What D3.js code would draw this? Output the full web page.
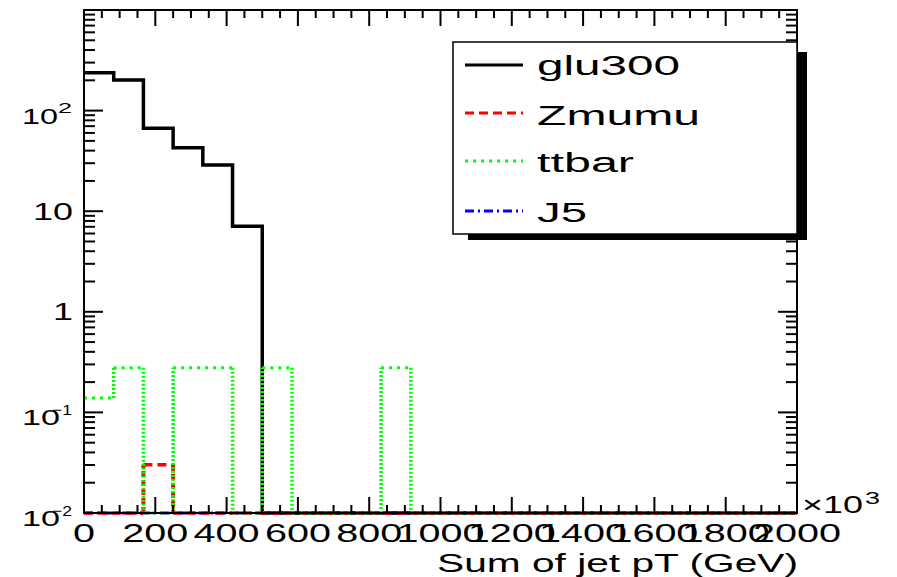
<!DOCTYPE html>
<html>
<head>
<meta charset="utf-8">
<script src="https://cdn.jsdelivr.net/npm/d3@7/dist/d3.min.js"></script>
<style>
  html, body { margin: 0; padding: 0; background: #fff; }
  svg { display: block; }
  text { font-family: "Liberation Sans", Arial, Helvetica, sans-serif; fill: #000; }
</style>
</head>
<body>
<svg id="chart" width="897" height="577"></svg>
<script>
// ---------------- data ----------------
const xRange = [0, 2000];           // x10^3
const nBins = 24;
const xTickLabels = ["0","200","400","600","800","1000","1200","1400","1600","1800","2000"];
const xTickValues = [0,200,400,600,800,1000,1200,1400,1600,1800,2000];
const yTickValues = [0.01, 0.1, 1, 10, 100];
const yTickBase = ["10","10","1","10","10"];
const yTickSup  = ["-2","-1","","","2"];
const seriesNames = ["glu300", "Zmumu", "ttbar", "J5"];
const glu300 = [238, 201, 66.7, 42.8, 28.8, 7.1, 0,0,0,0,0,0,0,0,0,0,0,0,0,0,0,0,0,0];
const Zmumu  = [0, 0, 0.0302, 0,0,0,0,0,0,0,0,0,0,0,0,0,0,0,0,0,0,0,0,0];
const ttbar  = [0.139, 0.278, 0, 0.278, 0.278, 0, 0.278, 0,0,0, 0.278, 0,0,0,0,0,0,0,0,0,0,0,0,0];
const J5     = [0,0,0,0,0,0,0,0,0,0,0,0,0,0,0,0,0,0,0,0,0,0,0,0];

// ---------------- layout ----------------
const svg = d3.select("#chart");
const L = 84, R = 797, T = 10, B = 513;
const x = d3.scaleLinear().domain(xRange).range([L, R]);
const y = d3.scaleLog().domain([0.01, 1000]).range([B, T]);
const yMin = 0.01;
const binW = (xRange[1] - xRange[0]) / nBins;
const edges = d3.range(nBins + 1).map(i => xRange[0] + i * binW);
const yv = v => y(v > yMin ? v : yMin);

// ---------------- histograms ----------------
function segments(vals) {
  const hs = [], vs = [];
  for (let i = 0; i < vals.length; i++) {
    hs.push([[x(edges[i]), yv(vals[i])], [x(edges[i+1]), yv(vals[i])]]);
    if (i < vals.length - 1 && yv(vals[i]) !== yv(vals[i+1]))
      vs.push([[x(edges[i+1]), yv(vals[i])], [x(edges[i+1]), yv(vals[i+1])]]);
  }
  return {hs, vs};
}
const line = d3.line();
const gH = svg.append("g");
function drawHist(vals, color, width, hDash, vDash) {
  const s = segments(vals);
  if (!hDash) {
    const pts = [];
    vals.forEach((v, i) => { pts.push([x(edges[i]), yv(v)]); pts.push([x(edges[i+1]), yv(v)]); });
    gH.append("path").attr("d", line(pts)).attr("fill", "none")
      .attr("stroke", color).attr("stroke-width", width).attr("stroke-linejoin", "miter");
    return;
  }
  const merged = [];
  s.hs.forEach(h => {
    const last = merged[merged.length - 1];
    if (last && last[1][1] === h[0][1] && Math.abs(last[1][0] - h[0][0]) < 0.01) last[1] = h[1];
    else merged.push([h[0].slice(), h[1].slice()]);
  });
  merged.forEach(h => gH.append("path").attr("d", line(h)).attr("fill", "none")
    .attr("stroke", color).attr("stroke-width", width).attr("stroke-dasharray", hDash));
  s.vs.forEach(v => gH.append("path").attr("d", line(v)).attr("fill", "none")
    .attr("stroke", color).attr("stroke-width", width + 0.5).attr("stroke-dasharray", vDash));
}
drawHist(J5, "#0000ff", 3, "9,4,2,4", "6,3,2,3");
drawHist(glu300, "#000000", 3.5, null, null);
drawHist(Zmumu, "#ff0000", 3.5, "9,5", "6,3");
drawHist(ttbar, "#00ff00", 3, "3,5", "2,2");

// ---------------- frame & ticks ----------------
const gA = svg.append("g").attr("stroke", "#000");
gA.append("rect").attr("x", L).attr("y", T).attr("width", R - L).attr("height", B - T)
  .attr("fill", "none").attr("stroke-width", 2);

const xMinor = d3.range(xRange[0], xRange[1] + 1, 50);
xMinor.forEach(v => {
  const major = v % 200 === 0;
  const len = major ? 16 : 8;
  gA.append("line").attr("x1", x(v)).attr("x2", x(v)).attr("y1", B).attr("y2", B - len).attr("stroke-width", 2);
  gA.append("line").attr("x1", x(v)).attr("x2", x(v)).attr("y1", T).attr("y2", T + len).attr("stroke-width", 2);
});
yTickValues.forEach(d => {
  for (let k = 1; k <= 9; k++) {
    const v = d * k;
    if (v > 1000) continue;
    const len = k === 1 ? 19 : 11;
    gA.append("line").attr("x1", L).attr("x2", L + len).attr("y1", y(v)).attr("y2", y(v)).attr("stroke-width", 2);
    gA.append("line").attr("x1", R).attr("x2", R - len).attr("y1", y(v)).attr("y2", y(v)).attr("stroke-width", 2);
  }
});

// ---------------- tick labels ----------------
const gT = svg.append("g");
xTickValues.forEach((v, i) => {
  const s = xTickLabels[i];
  gT.append("text").attr("x", x(v)).attr("y", 542).attr("text-anchor", "middle")
    .attr("font-size", 25).attr("textLength", s.length * 22).attr("lengthAdjust", "spacingAndGlyphs")
    .text(s);
});
yTickValues.forEach((v, i) => {
  const base = yTickBase[i], sup = yTickSup[i];
  const ty = y(v);
  if (!sup) {
    gT.append("text").attr("x", 73).attr("y", ty + 8.5).attr("text-anchor", "end")
      .attr("font-size", 23).attr("textLength", base.length * 20).attr("lengthAdjust", "spacingAndGlyphs")
      .text(base);
  } else {
    const neg = sup.startsWith("-");
    gT.append("text").attr("x", 22).attr("y", ty + 13).attr("font-size", 22)
      .attr("textLength", neg ? 38 : 36).attr("lengthAdjust", "spacingAndGlyphs").text(base);
    gT.append("text").attr("x", neg ? 52 : 58).attr("y", ty + (neg ? 3 : 2)).attr("font-size", 15)
      .attr("textLength", neg ? 20 : 14).attr("lengthAdjust", "spacingAndGlyphs")
      .text(neg ? "\u2212" + sup.slice(1) : sup);
  }
});
// x10^3
gT.append("text").attr("x", 802).attr("y", 513).attr("font-size", 24)
  .attr("textLength", 61).attr("lengthAdjust", "spacingAndGlyphs").text("\u00d710");
gT.append("text").attr("x", 865).attr("y", 504).attr("font-size", 16)
  .attr("textLength", 15).attr("lengthAdjust", "spacingAndGlyphs").text("3");
// axis title
gT.append("text").attr("x", 798).attr("y", 572).attr("text-anchor", "end").attr("font-size", 25)
  .attr("textLength", 361).attr("lengthAdjust", "spacingAndGlyphs").text("Sum of jet pT (GeV)");

// ---------------- legend ----------------
const gL = svg.append("g");
gL.append("rect").attr("x", 797).attr("y", 52).attr("width", 10).attr("height", 188).attr("fill", "#000");
gL.append("rect").attr("x", 468).attr("y", 234).attr("width", 339).attr("height", 6).attr("fill", "#000");
gL.append("rect").attr("x", 453).attr("y", 42).attr("width", 344).attr("height", 192)
  .attr("fill", "#fff").attr("stroke", "#000").attr("stroke-width", 1.5);
const legColors = ["#000000", "#ff0000", "#00ff00", "#0000ff"];
const legDash = [null, "9,5", "3,5", "9,4,2,4"];
const legWidth = [3, 3, 3, 3];
const legLineY = [65, 113, 161, 211];
const legTextY = [75, 125, 172, 222];
const legTextW = [143, 163, 97, 50];
seriesNames.forEach((n, i) => {
  const ln = gL.append("line").attr("x1", 465).attr("x2", 523).attr("y1", legLineY[i]).attr("y2", legLineY[i])
    .attr("stroke", legColors[i]).attr("stroke-width", legWidth[i]);
  if (legDash[i]) ln.attr("stroke-dasharray", legDash[i]);
  gL.append("text").attr("x", 537).attr("y", legTextY[i]).attr("font-size", 27)
    .attr("textLength", legTextW[i]).attr("lengthAdjust", "spacingAndGlyphs").text(n);
});
</script>
</body>
</html>
